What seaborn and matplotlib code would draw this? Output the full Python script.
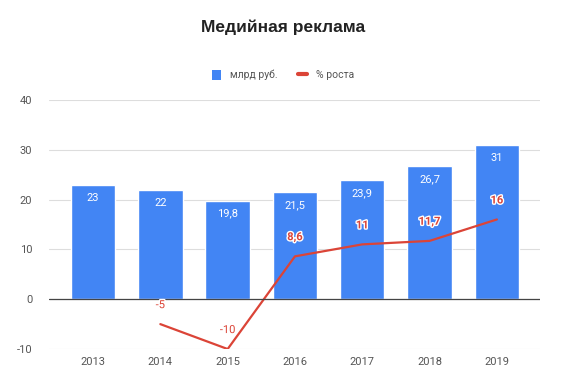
import numpy as np
import pandas as pd
import seaborn as sns
import matplotlib.pyplot as plt
import matplotlib.patheffects as pe
from matplotlib.patches import Patch
from matplotlib.lines import Line2D

years = ['2013', '2014', '2015', '2016', '2017', '2018', '2019']
volume = [23, 22, 19.8, 21.5, 23.9, 26.7, 31]
growth = [np.nan, -5, -10, 8.6, 11, 11.7, 16]

BLUE = '#4285F4'
RED = '#DB4437'
GREY = '#555555'

sns.set_theme(style='white')
plt.rcParams['font.family'] = ['Roboto', 'DejaVu Sans']
plt.rcParams['axes.unicode_minus'] = False

df = pd.DataFrame({'year': years, 'volume': volume, 'growth': growth})
df['pos'] = np.arange(len(years))

fig = plt.figure(figsize=(5.66, 3.9), dpi=100)
ax = fig.add_axes([0.0866, 0.105, 0.8674, 0.639])

sns.barplot(data=df, x='year', y='volume', color=BLUE, saturation=1, width=0.66, ax=ax, zorder=2)
sns.lineplot(data=df.dropna(), x='pos', y='growth', color=RED, linewidth=1.6, ax=ax, zorder=3)

def fmt(v):
    return ('%g' % v).replace('.', ',')

# подписи столбцов
for i, v in enumerate(volume):
    ax.annotate(fmt(v), (i, v), xytext=(0, -13), textcoords='offset pixels',
                ha='center', va='center', color='white', fontsize=8, zorder=5)

# подписи линии
for i, v in enumerate(growth):
    if np.isnan(v):
        continue
    t = ax.annotate(fmt(v), (i, v), xytext=(0, 19), textcoords='offset pixels',
                    ha='center', va='center', color=RED, fontsize=8,
                    fontweight='bold' if v > 0 else 'normal', zorder=6)
    t.set_path_effects([pe.withStroke(linewidth=2, foreground='white')])

ax.set_ylim(-10, 40)
ax.set_yticks([-10, 0, 10, 20, 30, 40])
ax.set_xlim(-0.654, 6.64)
ax.grid(axis='y', color='#dddddd', linewidth=0.8, zorder=0)
ax.axhline(0, color='#444444', linewidth=0.9, zorder=4)
ax.set_xlabel('')
ax.set_ylabel('')
for s in ax.spines.values():
    s.set_visible(False)
ax.tick_params(axis='both', length=0, labelsize=8, labelcolor=GREY)
ax.tick_params(axis='y', pad=12)
ax.tick_params(axis='x', pad=6)

fig.text(0.5, 0.93, 'Медийная реклама', ha='center', va='center',
         fontsize=12.5, fontweight='bold', color='#222222', family=['Liberation Sans', 'DejaVu Sans'])

handles = [Patch(facecolor=BLUE, edgecolor='none'),
           Line2D([0], [0], color=RED, linewidth=3)]
fig.legend(handles, ['млрд руб.', '% роста'], loc='center', bbox_to_anchor=(0.5, 0.808),
           ncol=2, frameon=False, fontsize=7.5, labelcolor=GREY, handlelength=0.9,
           handleheight=1.1, columnspacing=2.0, handletextpad=0.8)

fig.savefig('out.png', dpi=100)
